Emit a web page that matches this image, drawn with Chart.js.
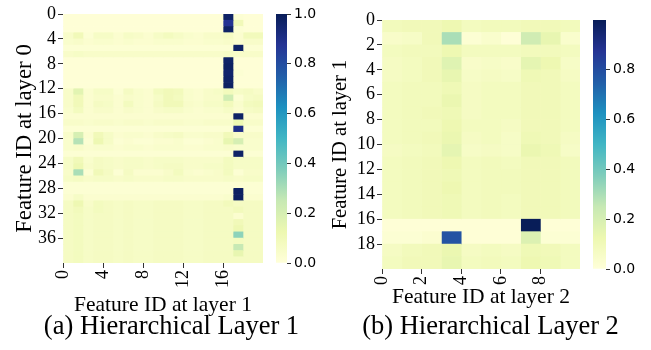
<!DOCTYPE html>
<html>
<head>
<meta charset="utf-8">
<script src="https://cdn.jsdelivr.net/npm/chart.js@4.4.0/dist/chart.umd.min.js"></script>
<style>
  body { margin: 0; background: #fff; width: 651px; height: 350px; position: relative; overflow: hidden; }
  canvas { position: absolute; }
  .cap { position: absolute; font-family: "Liberation Serif", serif; font-size: 26.5px; line-height: 30px; text-align: center; color: #000; white-space: nowrap; }
</style>
</head>
<body>
<canvas id="heatA" width="270" height="320" style="left:0;top:0"></canvas>
<canvas id="barA" width="50" height="280" style="left:276px;top:0"></canvas>
<canvas id="heatB" width="260" height="320" style="left:326px;top:0"></canvas>
<canvas id="barB" width="56" height="290" style="left:593px;top:0"></canvas>
<div class="cap" style="left:0;top:310px;width:343px">(a) Hierarchical Layer 1</div>
<div class="cap" style="left:330px;top:310px;width:321px">(b) Hierarchical Layer 2</div>
<script>
// tick labels
var xTicksA = [0, 4, 8, 12, 16];
var yTicksA = [0, 4, 8, 12, 16, 20, 24, 28, 32, 36];
var xTicksB = [0, 2, 4, 6, 8];
var yTicksB = [0, 2, 4, 6, 8, 10, 12, 14, 16, 18];
var cbarTicksA = [0, 0.2, 0.4, 0.6, 0.8, 1.0];
var cbarTicksB = [0, 0.2, 0.4, 0.6, 0.8];
var vmaxA = 1.0;
var vmaxB = 0.996;

// layer 0 (rows, 40) -> layer 1 (cols, 20)
var layer1Values = [
  [0.01,0.01,0.01,0.01,0.01,0.01,0.01,0.01,0.01,0.01,0.01,0.01,0.01,0.01,0.01,0.01,0.97,0.02,0.01,0.01],
  [0.01,0.01,0.01,0.01,0.01,0.01,0.01,0.01,0.01,0.01,0.01,0.01,0.01,0.01,0.01,0.01,0.88,0.10,0.01,0.01],
  [0.01,0.01,0.01,0.01,0.01,0.01,0.01,0.01,0.01,0.01,0.01,0.01,0.01,0.01,0.01,0.01,0.97,0.02,0.01,0.01],
  [0.05,0.10,0.02,0.06,0.06,0.03,0.06,0.05,0.03,0.06,0.08,0.06,0.04,0.03,0.05,0.05,0.07,0.03,0.09,0.09],
  [0.04,0.05,0.03,0.04,0.04,0.03,0.04,0.03,0.03,0.04,0.04,0.04,0.03,0.03,0.04,0.04,0.05,0.03,0.05,0.05],
  [0.02,0.02,0.02,0.02,0.02,0.02,0.02,0.02,0.02,0.02,0.02,0.02,0.02,0.02,0.02,0.02,0.02,0.97,0.02,0.02],
  [0.05,0.06,0.05,0.05,0.05,0.05,0.05,0.05,0.05,0.05,0.05,0.05,0.05,0.05,0.05,0.05,0.06,0.05,0.05,0.05],
  [0.01,0.01,0.01,0.01,0.01,0.01,0.01,0.01,0.01,0.01,0.01,0.01,0.01,0.01,0.01,0.01,0.97,0.01,0.01,0.01],
  [0.01,0.01,0.01,0.01,0.01,0.01,0.01,0.01,0.01,0.01,0.01,0.01,0.01,0.01,0.01,0.01,0.98,0.01,0.01,0.01],
  [0.01,0.01,0.01,0.01,0.01,0.01,0.01,0.01,0.01,0.01,0.01,0.01,0.01,0.01,0.01,0.01,0.96,0.02,0.01,0.01],
  [0.01,0.01,0.01,0.01,0.01,0.01,0.01,0.01,0.01,0.01,0.01,0.01,0.01,0.01,0.01,0.01,0.97,0.01,0.01,0.01],
  [0.01,0.01,0.01,0.01,0.01,0.01,0.01,0.01,0.01,0.01,0.01,0.01,0.01,0.01,0.01,0.01,0.98,0.01,0.01,0.01],
  [0.05,0.16,0.03,0.06,0.06,0.02,0.07,0.04,0.03,0.08,0.10,0.09,0.04,0.03,0.05,0.06,0.09,0.06,0.07,0.05],
  [0.05,0.10,0.03,0.05,0.05,0.03,0.05,0.04,0.03,0.06,0.10,0.08,0.04,0.03,0.05,0.05,0.22,0.02,0.06,0.07],
  [0.05,0.10,0.03,0.07,0.06,0.03,0.08,0.04,0.03,0.07,0.10,0.10,0.05,0.04,0.06,0.06,0.09,0.04,0.08,0.09],
  [0.04,0.08,0.03,0.05,0.05,0.03,0.05,0.04,0.03,0.05,0.06,0.06,0.04,0.03,0.04,0.04,0.06,0.03,0.06,0.07],
  [0.03,0.03,0.03,0.03,0.03,0.03,0.03,0.03,0.03,0.03,0.03,0.03,0.03,0.03,0.03,0.03,0.03,0.97,0.03,0.03],
  [0.05,0.05,0.04,0.05,0.05,0.04,0.05,0.05,0.04,0.05,0.05,0.05,0.04,0.04,0.05,0.05,0.05,0.12,0.05,0.05],
  [0.02,0.02,0.02,0.02,0.02,0.02,0.02,0.02,0.02,0.02,0.02,0.02,0.02,0.02,0.02,0.02,0.02,0.90,0.02,0.02],
  [0.05,0.20,0.03,0.10,0.06,0.03,0.04,0.04,0.03,0.05,0.06,0.07,0.04,0.04,0.05,0.05,0.10,0.05,0.05,0.05],
  [0.04,0.28,0.02,0.12,0.06,0.02,0.03,0.02,0.02,0.03,0.03,0.04,0.02,0.02,0.03,0.04,0.14,0.20,0.04,0.04],
  [0.04,0.05,0.03,0.04,0.04,0.03,0.04,0.04,0.03,0.04,0.04,0.04,0.03,0.03,0.04,0.04,0.05,0.04,0.04,0.04],
  [0.02,0.02,0.02,0.02,0.02,0.02,0.02,0.02,0.02,0.02,0.02,0.02,0.02,0.02,0.02,0.02,0.02,0.97,0.02,0.02],
  [0.06,0.10,0.04,0.07,0.06,0.05,0.06,0.06,0.05,0.06,0.06,0.06,0.05,0.05,0.05,0.05,0.08,0.06,0.06,0.06],
  [0.06,0.12,0.05,0.07,0.06,0.05,0.06,0.06,0.05,0.06,0.07,0.07,0.05,0.05,0.06,0.06,0.08,0.06,0.06,0.06],
  [0.05,0.30,0.02,0.10,0.07,0.02,0.07,0.03,0.03,0.03,0.05,0.08,0.04,0.03,0.04,0.05,0.08,0.02,0.05,0.05],
  [0.06,0.07,0.05,0.06,0.06,0.05,0.06,0.05,0.05,0.05,0.06,0.06,0.05,0.05,0.05,0.05,0.06,0.05,0.06,0.06],
  [0.02,0.02,0.02,0.02,0.02,0.02,0.02,0.02,0.02,0.02,0.02,0.02,0.02,0.02,0.02,0.02,0.02,0.02,0.02,0.02],
  [0.02,0.02,0.02,0.02,0.02,0.02,0.02,0.02,0.02,0.02,0.02,0.02,0.02,0.02,0.02,0.02,0.02,0.98,0.02,0.02],
  [0.03,0.06,0.03,0.03,0.03,0.03,0.03,0.03,0.03,0.03,0.03,0.03,0.03,0.03,0.03,0.03,0.04,0.98,0.03,0.03],
  [0.07,0.12,0.05,0.08,0.07,0.06,0.07,0.06,0.06,0.07,0.07,0.07,0.06,0.06,0.07,0.07,0.09,0.07,0.07,0.07],
  [0.07,0.09,0.06,0.08,0.07,0.06,0.07,0.06,0.06,0.07,0.07,0.07,0.06,0.06,0.07,0.07,0.07,0.09,0.07,0.07],
  [0.07,0.08,0.06,0.07,0.07,0.06,0.07,0.06,0.06,0.07,0.07,0.07,0.06,0.06,0.07,0.07,0.07,0.03,0.07,0.07],
  [0.07,0.08,0.06,0.07,0.07,0.06,0.07,0.06,0.06,0.07,0.07,0.07,0.06,0.06,0.07,0.07,0.07,0.10,0.07,0.07],
  [0.07,0.08,0.06,0.07,0.07,0.06,0.07,0.06,0.06,0.07,0.07,0.07,0.06,0.06,0.07,0.07,0.07,0.12,0.07,0.07],
  [0.07,0.08,0.06,0.07,0.07,0.06,0.07,0.06,0.06,0.07,0.07,0.07,0.06,0.06,0.07,0.07,0.07,0.35,0.07,0.07],
  [0.07,0.08,0.06,0.07,0.07,0.06,0.07,0.06,0.06,0.07,0.07,0.07,0.06,0.06,0.07,0.07,0.07,0.08,0.07,0.07],
  [0.07,0.08,0.06,0.07,0.07,0.06,0.07,0.06,0.06,0.07,0.07,0.07,0.06,0.06,0.07,0.07,0.07,0.25,0.07,0.07],
  [0.07,0.08,0.06,0.07,0.07,0.06,0.07,0.06,0.06,0.07,0.07,0.07,0.06,0.06,0.07,0.07,0.07,0.14,0.07,0.07],
  [0.07,0.08,0.06,0.07,0.07,0.06,0.07,0.06,0.06,0.07,0.07,0.07,0.06,0.06,0.07,0.07,0.07,0.07,0.07,0.07]
];

// layer 1 (rows, 20) -> layer 2 (cols, 10)
var layer2Values = [
  [0.09,0.10,0.10,0.12,0.08,0.09,0.09,0.10,0.10,0.09],
  [0.05,0.06,0.10,0.30,0.02,0.04,0.01,0.22,0.14,0.04],
  [0.08,0.09,0.09,0.12,0.08,0.08,0.08,0.09,0.09,0.08],
  [0.07,0.08,0.10,0.17,0.05,0.06,0.05,0.15,0.12,0.06],
  [0.07,0.08,0.10,0.14,0.06,0.07,0.06,0.11,0.10,0.07],
  [0.08,0.09,0.09,0.11,0.07,0.08,0.08,0.10,0.10,0.08],
  [0.08,0.09,0.09,0.13,0.07,0.08,0.08,0.10,0.10,0.08],
  [0.08,0.09,0.10,0.11,0.07,0.08,0.08,0.10,0.10,0.08],
  [0.08,0.09,0.09,0.12,0.08,0.08,0.07,0.10,0.10,0.08],
  [0.08,0.09,0.10,0.13,0.07,0.08,0.06,0.11,0.10,0.07],
  [0.07,0.08,0.09,0.15,0.06,0.07,0.06,0.13,0.11,0.06],
  [0.08,0.09,0.10,0.12,0.08,0.09,0.08,0.10,0.10,0.09],
  [0.08,0.09,0.10,0.11,0.08,0.09,0.09,0.10,0.10,0.09],
  [0.08,0.09,0.10,0.12,0.08,0.09,0.09,0.10,0.10,0.09],
  [0.08,0.09,0.10,0.11,0.08,0.09,0.08,0.10,0.10,0.09],
  [0.08,0.09,0.10,0.11,0.08,0.09,0.08,0.10,0.10,0.09],
  [0.01,0.01,0.01,0.01,0.01,0.01,0.01,0.996,0.01,0.01],
  [0.02,0.02,0.03,0.78,0.01,0.01,0.01,0.18,0.02,0.02],
  [0.07,0.09,0.10,0.13,0.07,0.08,0.07,0.11,0.10,0.08],
  [0.08,0.10,0.10,0.14,0.08,0.09,0.08,0.12,0.11,0.08]
];

// YlGnBu
var ylgnbu = ['#ffffd9','#edf8b1','#c7e9b4','#7fcdbb','#41b6c4','#1d91c0','#225ea8','#253494','#081d58'];

function hexToRgb(h) {
  return [parseInt(h.substr(1,2),16), parseInt(h.substr(3,2),16), parseInt(h.substr(5,2),16)];
}
function cellColor(t) {
  t = Math.max(0, Math.min(1, t));
  var p = t * (ylgnbu.length - 1);
  var i = Math.min(Math.floor(p), ylgnbu.length - 2);
  var f = p - i;
  var a = hexToRgb(ylgnbu[i]), b = hexToRgb(ylgnbu[i+1]);
  return 'rgb(' + Math.round(a[0]+(b[0]-a[0])*f) + ',' + Math.round(a[1]+(b[1]-a[1])*f) + ',' + Math.round(a[2]+(b[2]-a[2])*f) + ')';
}

var serif = 'Liberation Serif';

function heatmap(id, values, vmax, xTicks, yTicks, xTitle, yTitle, opts) {
  var nRows = values.length, nCols = values[0].length;
  var rowLabels = values.map(function(r, i) { return String(i); });
  var datasets = [];
  for (var c = 0; c < nCols; c++) {
    datasets.push({
      data: rowLabels.map(function() { return [c, c + 1]; }),
      backgroundColor: values.map(function(row) { return cellColor(row[c] / vmax); }),
      borderWidth: 0,
      grouped: false,
      barPercentage: 1,
      categoryPercentage: 1,
      xAxisID: 'x',
      yAxisID: 'y'
    });
  }
  return new Chart(document.getElementById(id), {
    type: 'bar',
    data: { labels: rowLabels, datasets: datasets },
    options: {
      indexAxis: 'y',
      responsive: false,
      animation: false,
      layout: { padding: opts.padding },
      plugins: { legend: { display: false }, tooltip: { enabled: false } },
      scales: {
        x: {
          type: 'linear', min: 0, max: nCols, offset: false,
          afterBuildTicks: function(ax) { ax.ticks = xTicks.map(function(v) { return { value: v }; }); },
          afterFit: function(s) { s.height = opts.xHeight; },
          ticks: { minRotation: 90, maxRotation: 90, autoSkip: false, padding: 2, color: '#000', font: { family: serif, size: 18 } },
          grid: { drawOnChartArea: false, offset: false, tickLength: 5, tickColor: '#333' },
          border: { display: false },
          title: { display: true, text: xTitle, color: '#000', font: { family: serif, size: 21.5 }, padding: { top: 0, bottom: opts.xTitlePad } }
        },
        y: { type: 'category', display: false, offset: true },
        yt: {
          type: 'linear', axis: 'y', position: 'left', reverse: true, min: 0, max: nRows, offset: false,
          afterBuildTicks: function(ax) { ax.ticks = yTicks.map(function(v) { return { value: v }; }); },
          afterFit: function(s) { s.width = opts.yWidth; },
          ticks: { autoSkip: false, padding: 2, color: '#000', font: { family: serif, size: 18 } },
          grid: { drawOnChartArea: false, offset: false, tickLength: 5, tickColor: '#333' },
          border: { display: false },
          title: { display: true, text: yTitle, color: '#000', font: { family: serif, size: opts.yTitleSize }, padding: { top: opts.yTitlePad, bottom: 0 } }
        }
      }
    }
  });
}

function colorbar(id, vmax, ticks, pad) {
  return new Chart(document.getElementById(id), {
    type: 'bar',
    data: {
      labels: [''],
      datasets: [{
        data: [[0, vmax]],
        borderWidth: 0,
        barPercentage: 1,
        categoryPercentage: 1,
        backgroundColor: function(ctx) {
          var ch = ctx.chart, area = ch.chartArea;
          if (!area) return ylgnbu[0];
          var g = ch.ctx.createLinearGradient(0, area.bottom, 0, area.top);
          ylgnbu.forEach(function(col, i) { g.addColorStop(i / (ylgnbu.length - 1), col); });
          return g;
        }
      }]
    },
    options: {
      responsive: false,
      animation: false,
      layout: { padding: pad },
      plugins: { legend: { display: false }, tooltip: { enabled: false } },
      scales: {
        x: { display: false },
        y: {
          position: 'right', min: 0, max: vmax,
          afterBuildTicks: function(ax) { ax.ticks = ticks.map(function(v) { return { value: v }; }); },
          afterFit: function(s) { s.width = pad.axisWidth; },
          ticks: { padding: 3, color: '#000', font: { family: 'DejaVu Sans', size: 14 }, callback: function(v) { return Number(v).toFixed(1); } },
          grid: { drawOnChartArea: false, tickLength: 4, tickColor: '#333' },
          border: { display: false }
        }
      }
    }
  });
}

heatmap('heatA', layer1Values, vmaxA, xTicksA, yTicksA, 'Feature ID at layer 1', 'Feature ID at layer 0',
  { padding: { top: 14, right: 7, left: 0, bottom: 0 }, xHeight: 57, yWidth: 63, xTitlePad: 2, yTitlePad: 11, yTitleSize: 22.8 });
heatmap('heatB', layer2Values, vmaxB, xTicksB, yTicksB, 'Feature ID at layer 2', 'Feature ID at layer 1',
  { padding: { top: 20, right: 6, left: 0, bottom: 0 }, xHeight: 51, yWidth: 56, xTitlePad: 10, yTitlePad: 2, yTitleSize: 20.5 });
colorbar('barA', vmaxA, cbarTicksA, { top: 14, bottom: 17, left: 0, right: 0, axisWidth: 39 });
colorbar('barB', vmaxB, cbarTicksB, { top: 20, bottom: 21, left: 0, right: 0, axisWidth: 43 });
</script>
</body>
</html>
